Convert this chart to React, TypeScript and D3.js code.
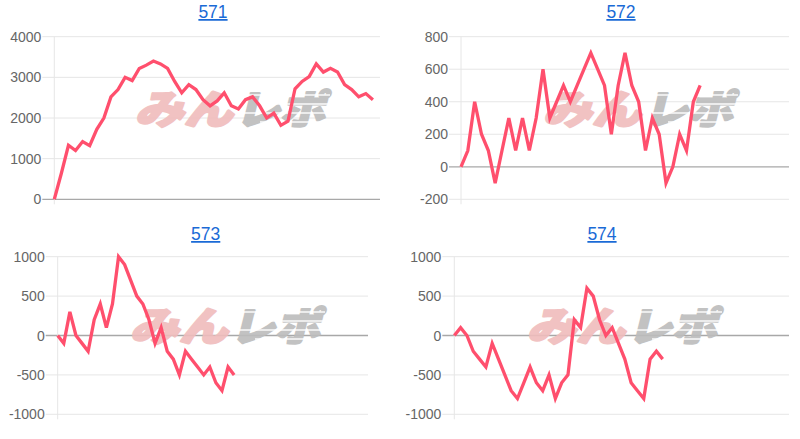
import React from "react";
import * as d3 from "d3";

const W = 800;
const H = 439;

// Series values (differences)
const data571 = [0, 640, 1330, 1200, 1420, 1320, 1720, 2000, 2520, 2700, 3000, 2920, 3220, 3300, 3400, 3330, 3220, 2900, 2620, 2820, 2700, 2450, 2300, 2420, 2620, 2300, 2220, 2450, 2520, 2300, 2000, 2120, 1820, 1920, 2720, 2900, 3020, 3330, 3130, 3220, 3130, 2820, 2700, 2520, 2600, 2450];
const data572 = [0, 100, 400, 200, 100, -100, 100, 300, 100, 300, 100, 300, 600, 300, 400, 500, 400, 500, 600, 700, 600, 500, 200, 500, 700, 500, 400, 100, 300, 200, -100, 0, 200, 100, 400, 500];
const data573 = [0, -100, 300, 0, -100, -200, 200, 400, 100, 400, 1000, 900, 700, 500, 400, 200, -100, 100, -200, -300, -500, -200, -300, -400, -500, -400, -600, -700, -400, -500];
const data574 = [0, 100, 0, -200, -300, -400, -100, -300, -500, -700, -800, -600, -400, -600, -700, -500, -800, -600, -500, 200, 100, 600, 500, 200, 0, 100, -100, -300, -600, -700, -800, -300, -200, -300];

const titles = ["571", "572", "573", "574"];
const slotCounts = [47, 49, 52, 54];
const ticks571 = [0, 1000, 2000, 3000, 4000];
const ticks572 = [-200, 0, 200, 400, 600, 800];
const ticks573 = [-1000, -500, 0, 500, 1000];
const ticks574 = [-1000, -500, 0, 500, 1000];

const LINE = "#ff4f6d";

type Layout = {
  x0: number; x1: number; yTop: number; yBot: number;
  titleX: number; titleY: number; wmX: number; wmY: number;
};

const layouts: Layout[] = [
  { x0: 54.3, x1: 380, yTop: 36.7, yBot: 199.3, titleX: 213, titleY: 18, wmX: 135, wmY: 124 },
  { x0: 461, x1: 789, yTop: 36.7, yBot: 199.3, titleX: 621, titleY: 18, wmX: 543, wmY: 124 },
  { x0: 57.7, x1: 368, yTop: 256.7, yBot: 414.3, titleX: 205.7, titleY: 240, wmX: 130, wmY: 341 },
  { x0: 454.3, x1: 789, yTop: 256.7, yBot: 414.3, titleX: 602, titleY: 240, wmX: 527, wmY: 341 },
];

const datasets = [data571, data572, data573, data574];
const tickSets = [ticks571, ticks572, ticks573, ticks574];

function Watermark({ x, y }: { x: number; y: number }) {
  const speed = [0, 9, 18, 27];
  const common = {
    fontFamily: "'Noto Sans CJK JP', sans-serif",
    fontWeight: 900,
    fontSize: 40,
    lengthAdjust: "spacingAndGlyphs",
    strokeWidth: 2.2,
    strokeLinejoin: "round" as const,
    transform: `skewX(-14) translate(${y * 0.249},0)`,
  };
  return (
    <g opacity={0.9}>
      <text x={x} y={y} fill="#f0bcbc" stroke="#f0bcbc" textLength={98} {...common}>
        みん
      </text>
      <text x={x + 100} y={y} fill="#bcbcbc" stroke="#bcbcbc" textLength={90} {...common}>
        レポ
      </text>
      {speed.map((s, i) => (
        <rect key={i} x={x + 105 + (i % 2) * 20} y={y - 30 + s} width={90 - (i % 2) * 20} height={2} fill="#ffffff" opacity={0.7} />
      ))}
    </g>
  );
}

function Panel({ idx }: { idx: number }) {
  const L = layouts[idx];
  const data = datasets[idx];
  const ticks = tickSets[idx];
  const slots = d3.range(slotCounts[idx]);
  const x = d3.scaleLinear().domain([0, slots.length - 1]).range([L.x0, L.x1]);
  const y = d3
    .scaleLinear()
    .domain([ticks[0], ticks[ticks.length - 1]])
    .range([L.yBot, L.yTop]);
  const line = d3
    .line<number>()
    .x((_, i) => x(i))
    .y((d) => y(d));
  return (
    <g>
      <text
        x={L.titleX}
        y={L.titleY}
        textAnchor="middle"
        fontFamily="'Liberation Sans', Arial, sans-serif"
        fontSize={17.5}
        fill="#1a6ad6"
        textDecoration="underline"
      >
        {titles[idx]}
      </text>
      {ticks.map((t) => (
        <g key={t}>
          <line
            x1={L.x0 - 12}
            x2={L.x1}
            y1={y(t)}
            y2={y(t)}
            stroke={t === 0 ? "#a8a8a8" : "#e6e6e6"}
            strokeWidth={t === 0 ? 1.3 : 1}
          />
          <text
            x={L.x0 - 13}
            y={y(t)}
            dy="0.36em"
            textAnchor="end"
            fontFamily="'Liberation Sans', Arial, sans-serif"
            fontSize={14}
            fill="#666666"
          >
            {t}
          </text>
        </g>
      ))}
      <line x1={L.x0} x2={L.x0} y1={L.yTop} y2={L.yBot + 5} stroke="#e6e6e6" strokeWidth={1} />
      <Watermark x={L.wmX} y={L.wmY} />
      <path d={line(data) || ""} fill="none" stroke={LINE} strokeWidth={3.3} strokeLinejoin="miter" />
    </g>
  );
}

export default function App() {
  return (
    <svg
      width={W}
      height={H}
      style={{ position: "absolute", left: 0, top: 0, background: "#ffffff" }}
    >
      <rect width={W} height={H} fill="#ffffff" />
      {[0, 1, 2, 3].map((i) => (
        <Panel key={i} idx={i} />
      ))}
    </svg>
  );
}
